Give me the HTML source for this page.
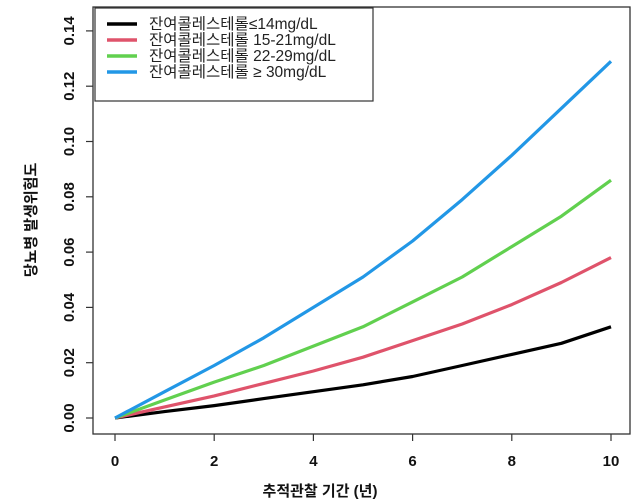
<!DOCTYPE html>
<html><head><meta charset="utf-8"><style>
html,body{margin:0;padding:0;background:#fff;}
svg{display:block;font-family:"Liberation Sans","Noto Sans CJK KR",sans-serif;}
</style></head><body>
<svg id="s" width="640" height="501" viewBox="0 0 640 501">
<rect x="93" y="7" width="537" height="427" fill="none" stroke="#333" stroke-width="1.3"/>
<g id="ax" stroke="#333" stroke-width="1.2"></g>
<g id="lab" font-weight="bold" font-size="15" fill="#111"></g>
<g id="lines" fill="none" stroke-width="3.2" stroke-linejoin="round"></g>
<rect x="95" y="8" width="278" height="93" fill="#fff" stroke="#333" stroke-width="1.2"/>
<g stroke-width="3.5">
<line x1="107" y1="24" x2="137" y2="24" stroke="#000"/>
<line x1="107" y1="40" x2="137" y2="40" stroke="#DF536B"/>
<line x1="107" y1="56" x2="137" y2="56" stroke="#61D04F"/>
<line x1="107" y1="72" x2="137" y2="72" stroke="#2297E6"/>
</g>
<g font-size="15.5" fill="#222">
<text x="149" y="29">잔여콜레스테롤≤14mg/dL</text>
<text x="149" y="45">잔여콜레스테롤 15-21mg/dL</text>
<text x="149" y="61">잔여콜레스테롤 22-29mg/dL</text>
<text x="149" y="77">잔여콜레스테롤 ≥ 30mg/dL</text>
</g>
<text x="320" y="496" text-anchor="middle" font-weight="bold" font-size="15" fill="#111">추적관찰 기간 (년)</text>
<text transform="translate(36,220) rotate(-90)" text-anchor="middle" font-weight="bold" font-size="15" fill="#111">당뇨병 발생위험도</text>
</svg>
<script>
var X=t=>115+49.6*t, Y=v=>418-v*2765;
var ax=document.getElementById('ax'),lab=document.getElementById('lab'),ns='http://www.w3.org/2000/svg';
function el(p,n,a,txt){var e=document.createElementNS(ns,n);for(var k in a)e.setAttribute(k,a[k]);if(txt)e.textContent=txt;p.appendChild(e);}
for(var t=0;t<=10;t+=2){el(ax,'line',{x1:X(t),x2:X(t),y1:434,y2:441});el(lab,'text',{x:X(t),y:466,'text-anchor':'middle'},String(t));}
for(var i=0;i<=7;i++){var v=i*0.02,y=Y(v);el(ax,'line',{x1:86,x2:93,y1:y,y2:y});el(lab,'text',{transform:'translate(74,'+y+') rotate(-90)','text-anchor':'middle'},v.toFixed(2));}
var d={"#000":[0,.0023,.0045,.007,.0095,.012,.015,.019,.023,.027,.033],
"#DF536B":[0,.004,.008,.0125,.017,.022,.028,.034,.041,.049,.058],
"#61D04F":[0,.0065,.013,.019,.026,.033,.042,.051,.062,.073,.086],
"#2297E6":[0,.0095,.019,.029,.040,.051,.064,.079,.095,.112,.129]};
var g=document.getElementById('lines');
for(var c in d){var p=d[c].map((v,i)=>X(i).toFixed(1)+','+Y(v).toFixed(1)).join(' ');el(g,'polyline',{points:p,stroke:c});}
</script>
</body></html>
